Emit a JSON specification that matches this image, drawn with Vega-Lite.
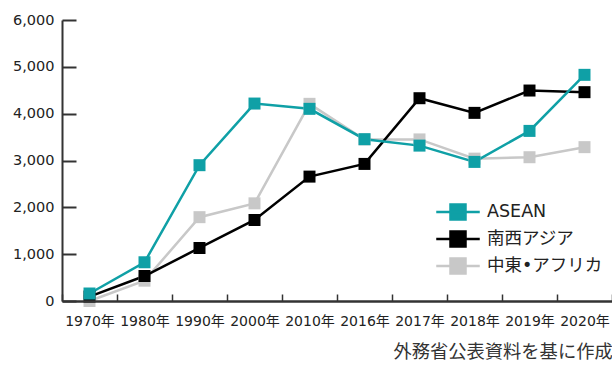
{
  "$schema": "https://vega.github.io/schema/vega-lite/v6.json",
  "width": 550,
  "height": 281,
  "autosize": {"type": "none"},
  "padding": {"left": 62, "top": 20, "right": 0, "bottom": 64},
  "background": "white",
  "config": {
    "view": {"stroke": null},
    "font": "DejaVu Sans, Noto Sans CJK JP",
    "axis": {"labelFont": "DejaVu Sans, Noto Sans CJK JP", "labelColor": "#222", "domainColor": "#333", "tickColor": "#333", "grid": false, "title": null}
  },
  "title": {"text": "外務省公表資料を基に作成", "orient": "bottom", "anchor": "end", "fontSize": 18.3, "fontWeight": "normal", "color": "#333", "font": "Noto Sans CJK JP", "offset": 16},
  "data": {"values": [
    {"year": "1970年", "series": "中東•アフリカ", "v": 0},
    {"year": "1980年", "series": "中東•アフリカ", "v": 434},
    {"year": "1990年", "series": "中東•アフリカ", "v": 1790},
    {"year": "2000年", "series": "中東•アフリカ", "v": 2085},
    {"year": "2010年", "series": "中東•アフリカ", "v": 4210},
    {"year": "2016年", "series": "中東•アフリカ", "v": 3450},
    {"year": "2017年", "series": "中東•アフリカ", "v": 3450},
    {"year": "2018年", "series": "中東•アフリカ", "v": 3040},
    {"year": "2019年", "series": "中東•アフリカ", "v": 3070},
    {"year": "2020年", "series": "中東•アフリカ", "v": 3285},
    {"year": "1970年", "series": "南西アジア", "v": 95},
    {"year": "1980年", "series": "南西アジア", "v": 534},
    {"year": "1990年", "series": "南西アジア", "v": 1132},
    {"year": "2000年", "series": "南西アジア", "v": 1730},
    {"year": "2010年", "series": "南西アジア", "v": 2656},
    {"year": "2016年", "series": "南西アジア", "v": 2927},
    {"year": "2017年", "series": "南西アジア", "v": 4330},
    {"year": "2018年", "series": "南西アジア", "v": 4017},
    {"year": "2019年", "series": "南西アジア", "v": 4494},
    {"year": "2020年", "series": "南西アジア", "v": 4459},
    {"year": "1970年", "series": "ASEAN", "v": 160},
    {"year": "1980年", "series": "ASEAN", "v": 827},
    {"year": "1990年", "series": "ASEAN", "v": 2900},
    {"year": "2000年", "series": "ASEAN", "v": 4216},
    {"year": "2010年", "series": "ASEAN", "v": 4103},
    {"year": "2016年", "series": "ASEAN", "v": 3455},
    {"year": "2017年", "series": "ASEAN", "v": 3318},
    {"year": "2018年", "series": "ASEAN", "v": 2970},
    {"year": "2019年", "series": "ASEAN", "v": 3632},
    {"year": "2020年", "series": "ASEAN", "v": 4829}
  ]},
  "encoding": {
    "x": {"field": "year", "type": "nominal", "sort": null,
      "scale": {"type": "band", "paddingInner": 0, "paddingOuter": 0},
      "axis": {"labelAngle": 0, "labelFontSize": 14, "tickBand": "extent", "tickSize": -7, "tickWidth": 1.5, "domainWidth": 2.5, "labelPadding": 20, "zindex": 1}},
    "y": {"field": "v", "type": "quantitative",
      "scale": {"domain": [0, 6000], "nice": false},
      "axis": {"values": [0, 1000, 2000, 3000, 4000, 5000, 6000], "format": ",d", "labelFontSize": 14.5, "tickSize": -14, "tickWidth": 2, "domainWidth": 2, "labelPadding": 22}},
    "color": {"field": "series", "type": "nominal",
      "scale": {"domain": ["ASEAN", "南西アジア", "中東•アフリカ"], "range": ["#0fa0a6", "#000000", "#c8c8c8"]},
      "legend": {"orient": "none", "legendX": 387, "legendY": 183, "title": null, "padding": 0,
        "symbolType": "M-2.9,0H2.9M-1,-1H1V1H-1Z", "symbolSize": 225, "symbolStrokeWidth": 2.5,
        "labelFontSize": 17.5, "labelColor": "#222", "labelOffset": 20, "rowPadding": 1, "labelFont": "DejaVu Sans, Noto Sans CJK JP",
        "encode": {"symbols": {"update": {"fill": {"scale": "color", "field": "value"}, "stroke": {"scale": "color", "field": "value"}, "opacity": {"value": 1}}}}}}
  },
  "layer": [
    {"mark": {"type": "line", "strokeWidth": 2.5, "clip": false}},
    {"mark": {"type": "point", "shape": "square", "filled": true, "size": 144, "opacity": 1, "clip": false}}
  ]
}
